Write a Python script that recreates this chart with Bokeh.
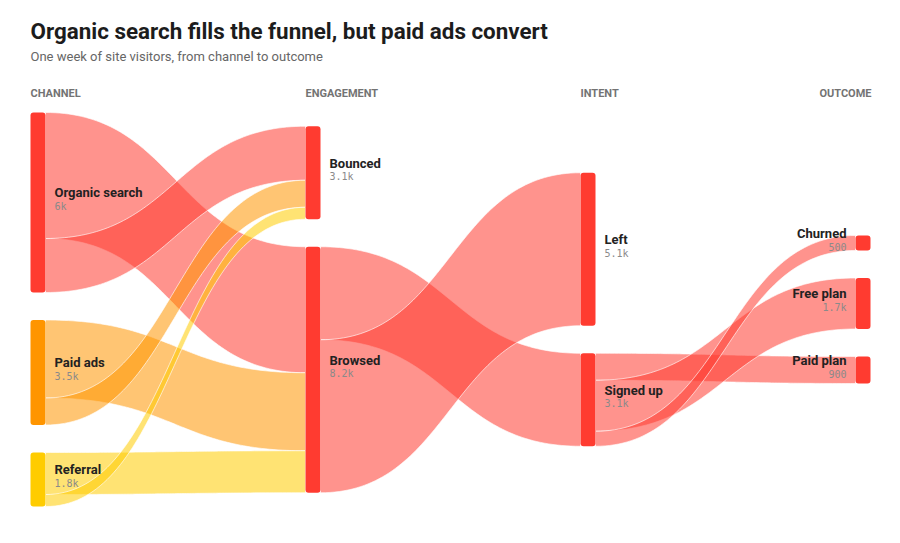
import numpy as np
from bokeh.plotting import figure
from bokeh.models import Range1d
from bokeh.core.properties import value
from bokeh.embed import file_html
from bokeh.resources import INLINE

# ---------------- data ----------------
TITLE = "Organic search fills the funnel, but paid ads convert"
SUBTITLE = "One week of site visitors, from channel to outcome"
stages = ["CHANNEL", "ENGAGEMENT", "INTENT", "OUTCOME"]

node_names = ["Organic search", "Paid ads", "Referral",
              "Bounced", "Browsed",
              "Left", "Signed up",
              "Churned", "Free plan", "Paid plan"]
node_stage = [0, 0, 0, 1, 1, 2, 2, 3, 3, 3]
node_colors = ["#ff3b30", "#ff9500", "#ffcc00",
               "#ff3b30", "#ff3b30",
               "#ff3b30", "#ff3b30",
               "#ff3b30", "#ff3b30", "#ff3b30"]

link_source = ["Organic search", "Organic search", "Paid ads", "Paid ads",
               "Referral", "Referral", "Browsed", "Browsed",
               "Signed up", "Signed up", "Signed up"]
link_target = ["Browsed", "Bounced", "Browsed", "Bounced",
               "Browsed", "Bounced", "Signed up", "Left",
               "Paid plan", "Free plan", "Churned"]
link_value = [4200, 1800, 2600, 900, 1400, 400, 3100, 5100, 900, 1700, 500]

# ---------------- layout ----------------
W, H = 884, 527
col_x = [30, 305, 580, 855]
node_w = 15
top, bottom = 112, 506
pad = 27.5
BASE = 0.4  # baseline correction factor (em)

idx = {n: i for i, n in enumerate(node_names)}
nin = [0.0] * len(node_names)
nout = [0.0] * len(node_names)
for s, t, v in zip(link_source, link_target, link_value):
    nout[idx[s]] += v
    nin[idx[t]] += v
node_val = [max(a, b) for a, b in zip(nin, nout)]

ncol = len(stages)
cols = [[i for i in range(len(node_names)) if node_stage[i] == c] for c in range(ncol)]
ky = min((bottom - top - (len(c) - 1) * pad) / sum(node_val[i] for i in c) for c in cols)
cy = (top + bottom) / 2

ny0 = [0.0] * len(node_names)
ny1 = [0.0] * len(node_names)
nx0 = [0.0] * len(node_names)
for c, members in enumerate(cols):
    total = sum(node_val[i] for i in members) * ky + (len(members) - 1) * pad
    y = cy - total / 2
    for i in members:
        ny0[i] = y
        ny1[i] = y + node_val[i] * ky
        nx0[i] = col_x[c]
        y = ny1[i] + pad

# link band positions
src_off = ny0[:]
tgt_off = ny0[:]
xs, ys, lcolors = [], [], []
t = np.linspace(0, 1, 80)
for s, tg, v in zip(link_source, link_target, link_value):
    si, ti = idx[s], idx[tg]
    w = v * ky
    sy0 = src_off[si]; src_off[si] += w
    ty0 = tgt_off[ti]; tgt_off[ti] += w
    xa = nx0[si] + node_w
    xb = nx0[ti]
    xm = (xa + xb) / 2
    bx = (1 - t) ** 3 * xa + 3 * (1 - t) ** 2 * t * xm + 3 * (1 - t) * t ** 2 * xm + t ** 3 * xb
    def by(ya, yb):
        return (1 - t) ** 3 * ya + 3 * (1 - t) ** 2 * t * ya + 3 * (1 - t) * t ** 2 * yb + t ** 3 * yb
    top_y = by(sy0, ty0)
    bot_y = by(sy0 + w, ty0 + w)
    xs.append(list(bx) + list(bx[::-1]))
    ys.append(list(top_y) + list(bot_y[::-1]))
    lcolors.append(node_colors[si])

def fmt(v):
    if v >= 1000:
        s = f"{v/1000:.1f}"
        if s.endswith(".0"):
            s = s[:-2]
        return s + "k"
    return str(int(v))

# ---------------- figure ----------------
p = figure(width=W, height=H, output_backend="svg", toolbar_location=None,
           x_range=Range1d(0, W), y_range=Range1d(H, 0),
           min_border=0, background_fill_color="white", border_fill_color="white")
p.axis.visible = False
p.grid.visible = False
p.outline_line_color = None

p.patches(xs=xs, ys=ys, fill_color=lcolors, fill_alpha=0.55,
          line_color="white", line_width=0.9, line_alpha=0.7)

p.quad(left=nx0, right=[x + node_w for x in nx0], top=ny0, bottom=ny1,
       fill_color=node_colors, line_color=None, border_radius=3)

# node labels
NAME_FS, VAL_FS, HEAD_FS, TITLE_FS, SUB_FS = 13, 10, 11, 22.4, 13
lx, la, name_y, val_y = [], [], [], []
for i in range(len(node_names)):
    c = node_stage[i]
    mid = (ny0[i] + ny1[i]) / 2
    if c == ncol - 1:
        lx.append(nx0[i] - 9); la.append("right")
    else:
        lx.append(nx0[i] + node_w + 9); la.append("left")
    name_y.append(mid - 4.5 - BASE * NAME_FS)
    val_y.append(mid + 8 - BASE * VAL_FS)

p.text(x=lx, y=name_y, text=node_names, text_align=la, text_baseline="alphabetic",
       text_font=value("Roboto"), text_font_style="bold", text_font_size=f"{NAME_FS}px",
       text_color="#222222")
p.text(x=lx, y=val_y, text=[fmt(v) for v in node_val], text_align=la,
       text_baseline="alphabetic", text_font=value("DejaVu Sans Mono"),
       text_font_size=f"{VAL_FS}px", text_color="#8a8a8a")

# stage headers
hx = [col_x[0], col_x[1], col_x[2], col_x[3] + node_w + 1]
ha = ["left", "left", "left", "right"]
p.text(x=hx, y=[97 - BASE * HEAD_FS] * 4, text=stages, text_align=ha,
       text_baseline="alphabetic",
       text_font=value("Roboto"), text_font_style="bold", text_font_size=f"{HEAD_FS}px",
       text_color="#737373")

# title & subtitle
p.text(x=[30], y=[39 - BASE * TITLE_FS], text=[TITLE], text_baseline="alphabetic",
       text_font=value("Roboto"), text_font_style="bold", text_font_size=f"{TITLE_FS}px",
       text_color="#1c1c1c")
p.text(x=[30], y=[61.5 - BASE * SUB_FS], text=[SUBTITLE], text_baseline="alphabetic",
       text_font=value("Roboto"), text_font_size=f"{SUB_FS}px", text_color="#666666")

open("out.html", "w").write(file_html(p, INLINE))
